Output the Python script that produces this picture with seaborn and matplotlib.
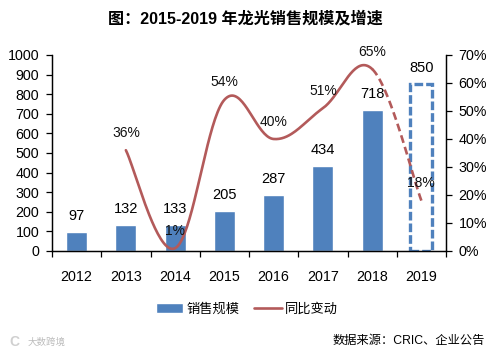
import numpy as np
import pandas as pd
import matplotlib
matplotlib.use("Agg")
import matplotlib.pyplot as plt
from matplotlib.patches import Patch
from matplotlib.lines import Line2D
import seaborn as sns

years = ['2012', '2013', '2014', '2015', '2016', '2017', '2018', '2019']
sales = [97, 132, 133, 205, 287, 434, 718, 850]
growth_years = [1, 2, 3, 4, 5, 6, 7]
growth = [36, 1, 54, 40, 51, 65, 18]

BLUE = '#4F81BD'
RED = '#B35A5A'

sns.set_theme(style='white')
plt.rcParams['font.family'] = ['Liberation Sans', 'Noto Sans CJK SC']
plt.rcParams['axes.unicode_minus'] = False

W, H = 496, 353
fig = plt.figure(figsize=(W / 100, H / 100), dpi=100)
ax = fig.add_axes([52 / W, 1 - 251 / H, 394 / W, 196 / H])

df = pd.DataFrame({'year': years, 'sales': sales})
sns.barplot(data=df, x='year', y='sales', color=BLUE, saturation=1, width=0.43, ax=ax)
ax.set_xlim(-0.5, 7.5)
ax.set_ylim(0, 1000)
ax.set_yticks(range(0, 1001, 100))
ax.set_xlabel('')
ax.set_ylabel('')

# 2019 is a forecast, dashed empty bar
last = ax.patches[-1]
last.set_facecolor('white')
last.set_edgecolor(BLUE)
last.set_linewidth(2.4)
last.set_linestyle((0, (2.6, 0.9)))
last.set_x(last.get_x() - 0.01)
last.set_width(0.45)

ax2 = ax.twinx()
ax2.set_ylim(0, 70)
ax2.set_yticks(range(0, 71, 10))
ax2.set_yticklabels([f'{v}%' for v in range(0, 71, 10)])


# excel style smoothed line, one bezier per pair of points
def smooth(xs, ys, n=40):
    xs = np.array(xs, dtype=float)
    ys = np.array(ys, dtype=float)
    p = np.column_stack([xs, ys])
    out = []
    for i in range(len(p) - 1):
        p0 = p[max(i - 1, 0)]
        p1 = p[i]
        p2 = p[i + 1]
        p3 = p[min(i + 2, len(p) - 1)]
        c1 = p1 + (p2 - p0) / 6 * 1.1
        c2 = p2 - (p3 - p1) / 6 * 1.1
        t = np.linspace(0, 1, n)[:, None]
        out.append((1 - t) ** 3 * p1 + 3 * (1 - t) ** 2 * t * c1 + 3 * (1 - t) * t ** 2 * c2 + t ** 3 * p2)
    return out


segs = smooth(growth_years, growth)
solid = np.vstack(segs[:-1])
dashed = segs[-1]
sns.lineplot(x=solid[:, 0], y=np.clip(solid[:, 1], 0.3, None), color=RED, linewidth=1.9,
             sort=False, estimator=None, ax=ax2)
sns.lineplot(x=dashed[:, 0], y=dashed[:, 1], color=RED, linewidth=1.9, linestyle=(0, (3, 1.6)),
             sort=False, estimator=None, ax=ax2)

for a in (ax, ax2):
    for s in a.spines.values():
        s.set_color('black')
        s.set_linewidth(0.9)
    a.spines['top'].set_visible(False)
    a.set_ylabel('')
    a.grid(False)
ax.tick_params(axis='y', left=True, length=4, width=0.9, pad=5, labelsize=10.3, colors='black')
ax.tick_params(axis='x', bottom=True, length=0, pad=14, labelsize=10.3, colors='black')
ax2.tick_params(axis='y', right=True, length=4, width=0.9, pad=5, labelsize=10.3, colors='black')

# ticks between the categories
ax.set_xticks(np.arange(-0.5, 8, 1), minor=True)
ax.tick_params(axis='x', which='minor', bottom=True, length=4, width=0.9, color='black')

for i, v in enumerate(sales):
    ax2.annotate(str(v), (i, v * 0.07), xytext=(0, 11.5), textcoords='offset points',
                 ha='center', va='center', fontsize=10.5, color='black')
for i, v in zip(growth_years, growth):
    ax2.annotate(f'{v}%', (i, v), xytext=(0, 12.5), textcoords='offset points',
                 ha='center', va='center', fontsize=10, color='#111111')

fig.text(245 / W, 1 - 19 / H, '图：2015-2019 年龙光销售规模及增速', ha='center', va='center',
         fontsize=11.6, fontweight='bold', color='black')

handles = [Patch(facecolor=BLUE, label='销售规模'),
           Line2D([0], [0], color=RED, linewidth=1.9, label='同比变动')]
fig.legend(handles=handles, loc='center', bbox_to_anchor=(247 / W, 1 - 309 / H), ncol=2, frameon=False,
           fontsize=9.5, handlelength=2.1, handleheight=0.8, handletextpad=0.25, columnspacing=1.1,
           labelcolor='black')

fig.text(485 / W, 1 - 341 / H, '数据来源：CRIC、企业公告', ha='right', va='center', fontsize=8.8, color='black')
fig.text(28 / W, 1 - 342 / H, '大数跨境', ha='left', va='center', fontsize=6.8, color='#bdbdbd')
fig.text(9 / W, 1 - 342 / H, 'C', ha='left', va='center', fontsize=10, fontweight='bold', color='#d0d0d0')

fig.savefig('out.png', dpi=100)
